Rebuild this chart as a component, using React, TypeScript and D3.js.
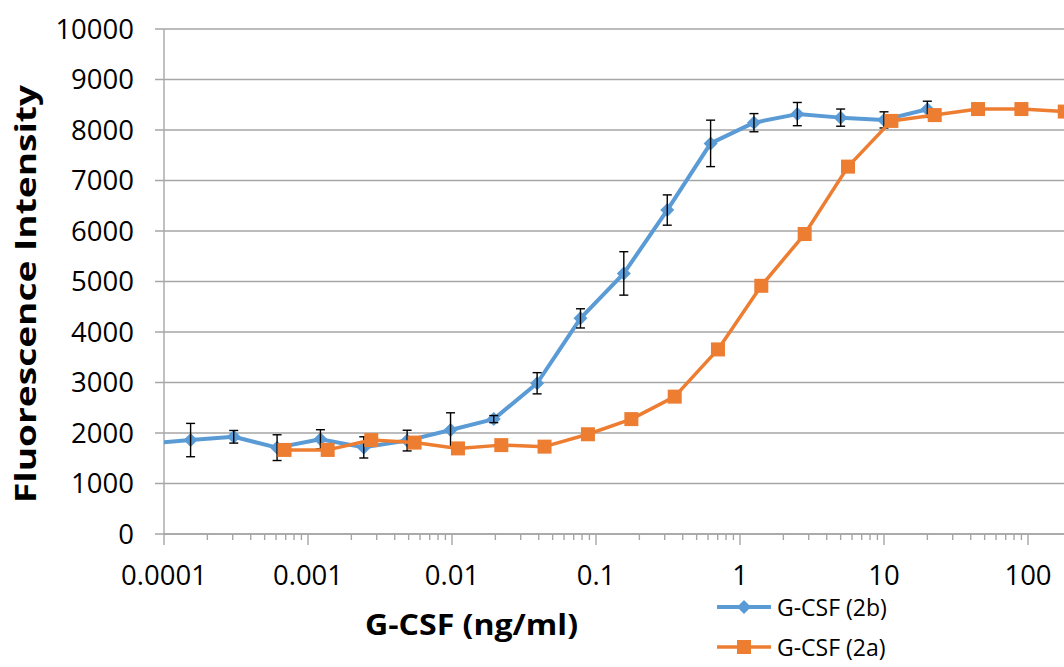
import React from "react";
import * as d3 from "d3";

const W = 1064;
const H = 667;

// G-CSF (2b) — blue, diamonds
const conc2b = [0.0000763, 0.000153, 0.000305, 0.00061, 0.00122, 0.00244, 0.00488, 0.00977, 0.0195, 0.039, 0.078, 0.156, 0.3125, 0.625, 1.25, 2.5, 5, 10, 20];
const fluor2b = [1790, 1860, 1925, 1710, 1875, 1715, 1850, 2060, 2275, 2985, 4270, 5160, 6415, 7735, 8145, 8315, 8245, 8200, 8410];
const err2b = [200, 330, 125, 255, 190, 210, 205, 340, 70, 210, 190, 430, 300, 460, 180, 230, 170, 160, 160];

// G-CSF (2a) — orange, squares
const conc2a = [0.000687, 0.00137, 0.00275, 0.0055, 0.011, 0.022, 0.0439, 0.0879, 0.176, 0.352, 0.703, 1.406, 2.8125, 5.625, 11.25, 22.5, 45, 90, 180];
const fluor2a = [1665, 1665, 1860, 1810, 1695, 1760, 1730, 1975, 2275, 2720, 3655, 4915, 5940, 7275, 8180, 8295, 8415, 8415, 8365];

const yTicks = [0, 1000, 2000, 3000, 4000, 5000, 6000, 7000, 8000, 9000, 10000];
const xTickValues = [0.0001, 0.001, 0.01, 0.1, 1, 10, 100];
const xTickLabels = ["0.0001", "0.001", "0.01", "0.1", "1", "10", "100"];

const seriesNames = ["G-CSF (2b)", "G-CSF (2a)"];
const BLUE = "#5B9BD5";
const ORANGE = "#ED7D31";
const GRID = "#A6A6A6";
const FONT = "'Open Sans', 'Liberation Sans', sans-serif";

const left = 164;
const top = 29;
const bottom = 534;
const right = W;

const x = d3.scaleLog().domain([0.0001, 100]).range([left, 1028]);
const y = d3.scaleLinear().domain([0, 10000]).range([bottom, top]);

export default function App() {
  const pts2b = conc2b.map((c, i) => [x(c), y(fluor2b[i])] as [number, number]);
  const pts2a = conc2a.map((c, i) => [x(c), y(fluor2a[i])] as [number, number]);
  const line = d3.line();

  const minorTicks: number[] = [];
  for (let e = -4; e <= 2; e++) {
    for (let m = 2; m <= 9; m++) {
      const v = m * Math.pow(10, e);
      if (x(v) <= right) minorTicks.push(v);
    }
  }

  const diamond = (cx: number, cy: number, r: number) =>
    `M${cx},${cy - r}L${cx + r},${cy}L${cx},${cy + r}L${cx - r},${cy}Z`;

  return (
    <svg
      width={W}
      height={H}
      style={{ position: "absolute", left: 0, top: 0, background: "#fff" }}
      fontFamily={FONT}
    >
      <defs>
        <clipPath id="plotClip">
          <rect x={left} y={0} width={right - left} height={bottom + 10} />
        </clipPath>
      </defs>
      <rect x={0} y={0} width={W} height={H} fill="#fff" />

      {/* gridlines */}
      {yTicks.map((t) => (
        <line key={"g" + t} x1={left - 9} x2={right} y1={y(t)} y2={y(t)} stroke={GRID} strokeWidth={1.4} />
      ))}
      {/* y axis */}
      <line x1={left} x2={left} y1={top} y2={bottom} stroke={GRID} strokeWidth={1.4} />
      {yTicks.map((t) => (
        <text key={"yl" + t} x={134} y={y(t)} dy="0.36em" textAnchor="end" fontSize={27.5} fill="#000">
          {t}
        </text>
      ))}

      {/* x axis ticks */}
      {xTickValues.map((v) => (
        <line key={"xt" + v} x1={x(v)} x2={x(v)} y1={bottom} y2={bottom + 11} stroke={GRID} strokeWidth={1.4} />
      ))}
      {minorTicks.map((v, i) => (
        <line key={"mt" + i} x1={x(v)} x2={x(v)} y1={bottom} y2={bottom + 6} stroke={GRID} strokeWidth={1.4} />
      ))}
      {xTickValues.map((v, i) => (
        <text key={"xl" + v} x={x(v)} y={585} textAnchor="middle" fontSize={27.5} fill="#000">
          {xTickLabels[i]}
        </text>
      ))}

      {/* series */}
      <g clipPath="url(#plotClip)">
        <path d={line(pts2b) || ""} fill="none" stroke={BLUE} strokeWidth={4} strokeLinejoin="round" />
        {pts2b.map(([px, py], i) => (
          <path key={"d" + i} d={diamond(px, py, 7)} fill={BLUE} />
        ))}
        {pts2b.map(([px], i) => {
          const y1 = y(fluor2b[i] + err2b[i]);
          const y2 = y(fluor2b[i] - err2b[i]);
          return (
            <g key={"e" + i} stroke="#000" strokeWidth={1.4}>
              <line x1={px} x2={px} y1={y1} y2={y2} />
              <line x1={px - 4.5} x2={px + 4.5} y1={y1} y2={y1} />
              <line x1={px - 4.5} x2={px + 4.5} y1={y2} y2={y2} />
            </g>
          );
        })}
        <path d={line(pts2a) || ""} fill="none" stroke={ORANGE} strokeWidth={3.5} strokeLinejoin="round" />
        {pts2a.map(([px, py], i) => (
          <rect key={"s" + i} x={px - 7} y={py - 7} width={14} height={14} fill={ORANGE} />
        ))}
      </g>

      {/* x axis line */}
      <line x1={left} x2={right} y1={bottom} y2={bottom} stroke={GRID} strokeWidth={1.4} />

      {/* axis titles */}
      <text x={471.5} y={635} textAnchor="middle" fontSize={28} fontWeight="bold" fill="#000" textLength={213} lengthAdjust="spacingAndGlyphs">
        G-CSF (ng/ml)
      </text>
      <text
        transform="translate(36,294) rotate(-90)"
        textAnchor="middle"
        fontSize={28}
        fontWeight="bold"
        fill="#000"
        textLength={418}
        lengthAdjust="spacingAndGlyphs"
      >
        Fluorescence Intensity
      </text>

      {/* legend */}
      <g>
        <line x1={717} x2={771} y1={607} y2={607} stroke={BLUE} strokeWidth={4} />
        <path d={diamond(744, 607, 7)} fill={BLUE} />
        <text x={777} y={616} fontSize={23} fill="#000">
          {seriesNames[0]}
        </text>
        <line x1={717} x2={771} y1={647} y2={647} stroke={ORANGE} strokeWidth={3.5} />
        <rect x={737} y={640} width={14} height={14} fill={ORANGE} />
        <text x={777} y={656} fontSize={23} fill="#000">
          {seriesNames[1]}
        </text>
      </g>
    </svg>
  );
}
